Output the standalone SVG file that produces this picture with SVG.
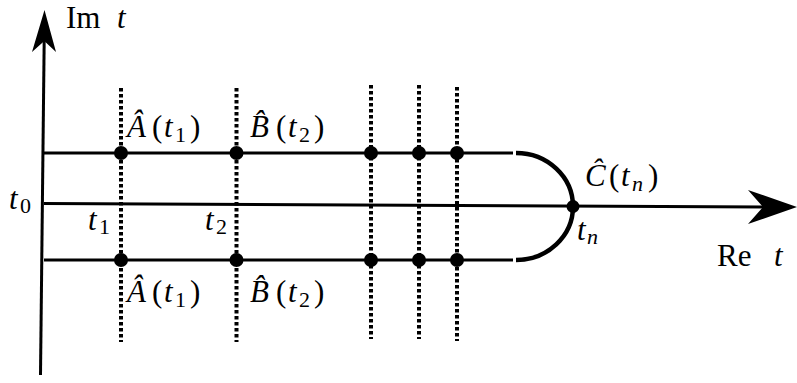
<svg xmlns="http://www.w3.org/2000/svg" width="797" height="383" viewBox="0 0 797 383">
<style>
.it{font-style:italic}
.sub{font-size:22px}
.dot{stroke:#000;stroke-width:4;stroke-dasharray:3.5 2.5;fill:none}
.ct{stroke:#000;stroke-width:3;fill:none}
.pt{fill:#000}
</style>
<rect width="797" height="383" fill="#fff"/>
<g id="connectors">
  <line x1="40.5" y1="375" x2="44.3" y2="30" stroke="#000" stroke-width="3"/>
  <polygon points="44.5,10 56,52 44.3,41 32,52" fill="#000"/>
  <line x1="44" y1="203.5" x2="770" y2="207" stroke="#000" stroke-width="3"/>
  <polygon points="797,207 748,190 763,207 748,224" fill="#000"/>
  <line class="ct" x1="44" y1="153" x2="513" y2="153"/>
  <line class="ct" x1="44" y1="260" x2="513" y2="260"/>
  <path d="M516,153 A57,53.5 0 0 1 573,206.5 A57,53.5 0 0 1 516,260" fill="none" stroke="#000" stroke-width="4.5"/>
  <line class="dot" x1="121" y1="88" x2="121" y2="342"/>
  <line class="dot" x1="236.5" y1="88" x2="236.5" y2="342"/>
  <line class="dot" x1="371" y1="85" x2="371" y2="339"/>
  <line class="dot" x1="419" y1="85" x2="419" y2="339"/>
  <line class="dot" x1="457" y1="87" x2="457" y2="341"/>
</g>
<g id="points">
  <circle class="pt" cx="121" cy="153" r="7"/>
  <circle class="pt" cx="236.5" cy="153" r="7"/>
  <circle class="pt" cx="371" cy="153" r="7"/>
  <circle class="pt" cx="419" cy="153" r="7"/>
  <circle class="pt" cx="457" cy="153" r="7"/>
  <circle class="pt" cx="121" cy="260" r="7"/>
  <circle class="pt" cx="236.5" cy="260" r="7"/>
  <circle class="pt" cx="371" cy="260" r="7"/>
  <circle class="pt" cx="419" cy="260" r="7"/>
  <circle class="pt" cx="457" cy="260" r="7"/>
  <circle class="pt" cx="573" cy="206.5" r="6.5"/>
</g>
<g id="labels" font-family="Liberation Serif" font-size="31" fill="#000">
  <text x="66" y="28">Im<tspan class="it" x="117">t</tspan></text>
  <text x="717" y="266">Re<tspan class="it" x="774">t</tspan></text>
  <text x="9" y="209"><tspan class="it">t</tspan><tspan class="sub" x="20" dy="4">0</tspan></text>
  <text x="88" y="230"><tspan class="it">t</tspan><tspan class="sub" x="99" dy="4">1</tspan></text>
  <text x="205" y="230"><tspan class="it">t</tspan><tspan class="sub" x="216" dy="4">2</tspan></text>
  <text x="577" y="240"><tspan class="it">t</tspan><tspan class="sub it" x="587" dy="4">n</tspan></text>
  <text x="127" y="137"><tspan class="it">Â</tspan><tspan x="152">(</tspan><tspan class="it" x="164">t</tspan><tspan class="sub" x="175" dy="5">1</tspan><tspan x="190" dy="-5">)</tspan></text>
  <text x="127" y="302"><tspan class="it">Â</tspan><tspan x="152">(</tspan><tspan class="it" x="164">t</tspan><tspan class="sub" x="175" dy="5">1</tspan><tspan x="190" dy="-5">)</tspan></text>
  <text x="250" y="137"><tspan class="it">B̂</tspan><tspan x="276">(</tspan><tspan class="it" x="288">t</tspan><tspan class="sub" x="299" dy="5">2</tspan><tspan x="314" dy="-5">)</tspan></text>
  <text x="250" y="302"><tspan class="it">B̂</tspan><tspan x="276">(</tspan><tspan class="it" x="288">t</tspan><tspan class="sub" x="299" dy="5">2</tspan><tspan x="314" dy="-5">)</tspan></text>
  <text x="585" y="186"><tspan class="it">Ĉ</tspan><tspan x="609">(</tspan><tspan class="it" x="621">t</tspan><tspan class="sub it" x="632" dy="5">n</tspan><tspan x="648" dy="-5">)</tspan></text>
</g>
</svg>
